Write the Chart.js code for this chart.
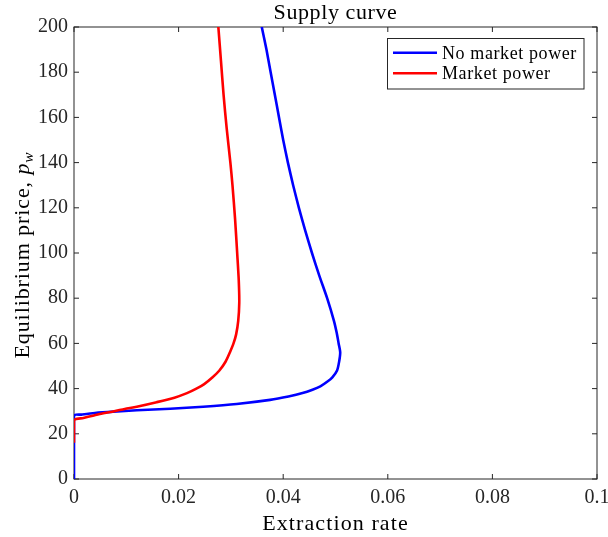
<!DOCTYPE html>
<html>
<head>
<meta charset="utf-8">
<script src="https://cdn.jsdelivr.net/npm/chart.js@4/dist/chart.umd.min.js"></script>
<style>
  html, body { margin: 0; padding: 0; background: #ffffff; }
  #wrap { width: 608px; height: 537px; }
</style>
</head>
<body>
<div id="wrap"><canvas id="c" width="608" height="537"></canvas></div>
<script>
// Supply curve: equilibrium price against extraction rate
const chartTitle = 'Supply curve';
const xTitle = 'Extraction rate';
const yTitleMain = 'Equilibrium price, ';
const yTitleSym = 'p';
const yTitleSub = 'w';

const seriesNames = ['No market power', 'Market power'];
const seriesColors = ['#0000ff', '#ff0000'];

// No market power
const noPowerPrice = [0, 28, 28.5, 29.2, 29.8, 30.4, 31.1, 32, 33.2, 35, 36.5, 38, 39.5, 41, 43, 45, 48, 52, 56, 60, 65, 70, 80, 90, 100, 110, 120, 130, 140, 150, 160, 170, 180, 190, 200];
const noPowerRate = [0, 0, 0.0015, 0.0040, 0.0075, 0.0120, 0.0184, 0.0247, 0.0311, 0.0375, 0.0410, 0.0437, 0.0456, 0.0471, 0.0484, 0.0494, 0.0503, 0.0507, 0.0509, 0.0506, 0.0502, 0.0497, 0.0484, 0.0469, 0.0455, 0.0442, 0.0430, 0.0419, 0.0409, 0.0400, 0.0392, 0.0384, 0.0376, 0.0368, 0.0359];

// Market power
const powerPrice = [16, 26, 27, 28, 29, 30, 31, 32, 34, 36, 38, 40, 42, 45, 48, 52, 56, 60, 64, 70, 78, 88, 100, 115, 130, 140, 155, 170, 185, 200];
const powerRate = [0, 0, 0.0018, 0.0036, 0.0054, 0.0077, 0.0097, 0.0120, 0.0158, 0.0192, 0.0216, 0.0234, 0.0249, 0.0265, 0.0278, 0.0290, 0.0298, 0.0305, 0.0310, 0.0314, 0.0316, 0.0315, 0.0312, 0.0308, 0.0303, 0.0299, 0.0292, 0.0286, 0.0281, 0.0276];

const xTickLabels = ['0', '0.02', '0.04', '0.06', '0.08', '0.1'];
const yTickLabels = ['0', '20', '40', '60', '80', '100', '120', '140', '160', '180', '200'];

const SERIF = '"Liberation Serif", "Times New Roman", serif';
const AXIS_COLOR = '#262626';

function toPoints(rates, prices) {
  return prices.map((p, i) => ({ x: rates[i], y: p }));
}

// Box around the axes with inward tick marks on all four sides
const framePlugin = {
  id: 'frame',
  beforeDatasetsDraw(chart) {
    const { ctx, chartArea: a, scales } = chart;
    const len = 5;
    ctx.save();
    ctx.strokeStyle = AXIS_COLOR;
    ctx.lineWidth = 1;
    ctx.strokeRect(a.left, a.top, a.right - a.left, a.bottom - a.top);
    ctx.beginPath();
    scales.x.ticks.forEach(t => {
      const px = scales.x.getPixelForValue(t.value);
      ctx.moveTo(px, a.bottom); ctx.lineTo(px, a.bottom - len);
      ctx.moveTo(px, a.top); ctx.lineTo(px, a.top + len);
    });
    scales.y.ticks.forEach(t => {
      const py = scales.y.getPixelForValue(t.value);
      ctx.moveTo(a.left, py); ctx.lineTo(a.left + len, py);
      ctx.moveTo(a.right, py); ctx.lineTo(a.right - len, py);
    });
    ctx.stroke();
    ctx.restore();
  }
};

// Title, axis titles and legend
const textPlugin = {
  id: 'texts',
  afterDraw(chart) {
    const { ctx, chartArea: a } = chart;
    const cx = (a.left + a.right) / 2;
    const cy = (a.top + a.bottom) / 2;
    ctx.save();
    ctx.fillStyle = '#000000';
    ctx.textBaseline = 'alphabetic';

    // title
    ctx.font = '22px ' + SERIF;
    ctx.letterSpacing = '0.6px';
    ctx.textAlign = 'center';
    ctx.fillText(chartTitle, cx, 19);

    // x axis title
    ctx.letterSpacing = '1.1px';
    ctx.fillText(xTitle, cx, 530);

    // y axis title, rotated, with italic p and subscript w
    ctx.save();
    ctx.translate(28.5, cy + 2);
    ctx.rotate(-Math.PI / 2);
    ctx.textAlign = 'left';
    ctx.letterSpacing = '0.9px';
    ctx.font = '22px ' + SERIF;
    const w1 = ctx.measureText(yTitleMain).width;
    ctx.font = 'italic 22px ' + SERIF;
    const w2 = ctx.measureText(yTitleSym).width;
    ctx.font = 'italic 15.5px ' + SERIF;
    const w3 = ctx.measureText(yTitleSub).width;
    let x0 = -(w1 + w2 + w3) / 2;
    ctx.font = '22px ' + SERIF;
    ctx.fillText(yTitleMain, x0, 0);
    x0 += w1;
    ctx.font = 'italic 22px ' + SERIF;
    ctx.fillText(yTitleSym, x0, 0);
    x0 += w2;
    ctx.font = 'italic 15.5px ' + SERIF;
    ctx.fillText(yTitleSub, x0, 4);
    ctx.restore();

    // legend
    const box = { x: 387.5, y: 38.5, w: 196.5, h: 50.5 };
    ctx.fillStyle = '#ffffff';
    ctx.fillRect(box.x, box.y, box.w, box.h);
    ctx.strokeStyle = AXIS_COLOR;
    ctx.lineWidth = 1;
    ctx.strokeRect(box.x, box.y, box.w, box.h);
    ctx.font = '18px ' + SERIF;
    ctx.letterSpacing = '0.6px';
    ctx.textAlign = 'left';
    const rows = [52.7, 73.3];
    chart.data.datasets.forEach((ds, i) => {
      const ly = rows[i];
      ctx.strokeStyle = ds.borderColor;
      ctx.lineWidth = 2.6;
      ctx.beginPath();
      ctx.moveTo(393, ly);
      ctx.lineTo(437, ly);
      ctx.stroke();
      ctx.fillStyle = '#000000';
      ctx.fillText(ds.label, 442, ly + 6);
    });
    ctx.restore();
  }
};

const lineStyle = {
  showLine: true,
  borderWidth: 2.6,
  pointRadius: 0,
  pointHoverRadius: 0,
  tension: 0.25,
  borderJoinStyle: 'round'
};

new Chart(document.getElementById('c').getContext('2d'), {
  type: 'scatter',
  data: {
    datasets: [
      Object.assign({
        label: seriesNames[0],
        data: toPoints(noPowerRate, noPowerPrice),
        borderColor: seriesColors[0],
        backgroundColor: seriesColors[0],
        order: 1
      }, lineStyle),
      Object.assign({
        label: seriesNames[1],
        data: toPoints(powerRate, powerPrice),
        borderColor: seriesColors[1],
        backgroundColor: seriesColors[1],
        order: 0
      }, lineStyle)
    ]
  },
  options: {
    responsive: false,
    animation: false,
    devicePixelRatio: 1,
    events: [],
    layout: { padding: { top: 27, right: 11, left: 0, bottom: 0 } },
    plugins: {
      legend: { display: false },
      title: { display: false },
      tooltip: { enabled: false }
    },
    scales: {
      x: {
        type: 'linear',
        min: 0,
        max: 0.1,
        grid: { display: false, drawTicks: false },
        border: { display: false },
        ticks: {
          stepSize: 0.02,
          autoSkip: false,
          maxRotation: 0,
          padding: 7,
          color: AXIS_COLOR,
          font: { family: SERIF, size: 20 },
          callback: (v, i) => xTickLabels[i]
        },
        afterFit: s => { s.height = 58; s.paddingLeft = 0; s.paddingRight = 0; }
      },
      y: {
        type: 'linear',
        min: 0,
        max: 200,
        grid: { display: false, drawTicks: false },
        border: { display: false },
        ticks: {
          stepSize: 20,
          autoSkip: false,
          padding: 6,
          color: AXIS_COLOR,
          font: { family: SERIF, size: 20 },
          callback: (v, i) => yTickLabels[i]
        },
        afterFit: s => { s.width = 74; s.paddingTop = 0; s.paddingBottom = 0; }
      }
    }
  },
  plugins: [framePlugin, textPlugin]
});
</script>
</body>
</html>
